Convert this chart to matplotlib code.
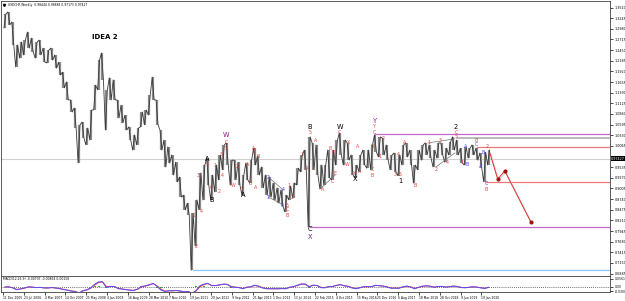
import numpy as np
import pandas as pd
import matplotlib
matplotlib.use('Agg')
from matplotlib import pyplot as plt
from matplotlib.transforms import blended_transform_factory

# USDCHF weekly, condensed to 6-week blocks starting 11 Dec 2005 (high / low of each block)
blk_hi = [1.335, 1.340, 1.315, 1.258, 1.265, 1.270, 1.290, 1.275, 1.265, 1.270,
          1.250, 1.245, 1.250, 1.233, 1.215, 1.190, 1.166, 1.121, 1.101, 1.059,
          1.066, 1.051, 1.096, 1.158, 1.220, 1.238, 1.146, 1.176, 1.171, 1.121,
          1.108, 1.083, 1.054, 1.034, 1.051, 1.091, 1.096, 1.133, 1.178, 1.121,
          1.046, 1.021, 1.004, 0.984, 0.966, 0.929, 0.884, 0.864, 0.839, 0.872,
          0.939, 0.959, 0.976, 0.934, 0.959, 0.984, 1.009, 1.014, 0.971, 0.971,
          0.966, 0.934, 0.964, 0.971, 1.001, 0.981, 0.954, 0.934, 0.929, 0.914,
          0.902, 0.897, 0.884, 0.907, 0.914, 0.951, 0.984, 0.996, 1.029, 1.014,
          1.009, 0.959, 0.959, 0.996, 0.996, 1.021, 1.039, 1.021, 1.014, 0.984,
          0.959, 0.984, 0.996, 0.996, 1.009, 1.034, 1.029, 1.026, 1.009, 0.984,
          0.989, 0.984, 1.009, 1.014, 0.996, 0.959, 0.996, 1.009, 1.014, 1.009,
          0.996, 1.014, 1.014, 1.001, 1.016, 1.029, 1.021, 1.001, 1.004, 1.001,
          1.009, 1.001, 0.989, 0.991, 0.996]
blk_lo = [1.300, 1.308, 1.258, 1.203, 1.225, 1.233, 1.250, 1.240, 1.225, 1.233,
          1.215, 1.213, 1.220, 1.200, 1.183, 1.151, 1.121, 1.091, 1.051, 0.964,
          1.026, 1.009, 1.021, 1.096, 1.146, 1.171, 1.046, 1.121, 1.121, 1.076,
          1.064, 1.046, 1.021, 0.996, 1.009, 1.054, 1.059, 1.083, 1.121, 1.059,
          0.996, 0.954, 0.964, 0.934, 0.917, 0.879, 0.847, 0.834, 0.697, 0.757,
          0.847, 0.872, 0.909, 0.872, 0.892, 0.922, 0.947, 0.959, 0.909, 0.922,
          0.909, 0.884, 0.922, 0.914, 0.959, 0.934, 0.902, 0.884, 0.879, 0.872,
          0.864, 0.857, 0.842, 0.872, 0.877, 0.909, 0.942, 0.947, 0.805, 0.947,
          0.934, 0.899, 0.909, 0.927, 0.922, 0.959, 0.984, 0.959, 0.971, 0.934,
          0.927, 0.942, 0.959, 0.951, 0.947, 0.991, 0.979, 0.984, 0.971, 0.947,
          0.942, 0.932, 0.959, 0.979, 0.959, 0.914, 0.947, 0.971, 0.984, 0.976,
          0.954, 0.976, 0.984, 0.966, 0.984, 0.996, 0.984, 0.964, 0.959, 0.976,
          0.984, 0.971, 0.951, 0.917, 0.959]

date_labels = ['11 Dec 2005', '23 Jul 2006', '4 Mar 2007', '14 Oct 2007', '25 May 2008',
               '4 Jan 2009', '16 Aug 2009', '28 Mar 2010', '7 Nov 2010', '19 Jun 2011',
               '29 Jan 2012', '9 Sep 2012', '21 Apr 2013', '1 Dec 2013', '13 Jul 2014',
               '22 Feb 2015', '4 Oct 2015', '15 May 2016', '25 Dec 2016', '6 Aug 2017',
               '18 Mar 2018', '28 Oct 2018', '9 Jun 2019', '19 Jan 2020']
price_ticks = [1.3510, 1.3245, 1.2980, 1.2715, 1.2450, 1.2185, 1.1920, 1.1655, 1.1390,
               1.1125, 1.0860, 1.0595, 1.0330, 1.0065, 0.9535, 0.9270, 0.9005,
               0.8740, 0.8475, 0.8210, 0.7945, 0.7680, 0.7415, 0.7150, 0.6885]
last_price = 0.97427

# wave labels: (week, price, text)
lab_black = [(314, 0.974, 'A'), (321, 0.872, 'B'), (369, 0.884, 'A'), (472, 1.054, 'B'),
             (472, 0.800, 'C'), (518, 1.054, 'W'), (541, 0.924, 'X'), (611, 0.919, '1'),
             (697, 1.054, '2')]
lab_purple = [(343, 1.034, 'W'), (472, 0.780, 'X'), (572, 1.068, 'Y')]
lab_red = [(294, 0.832, '1'), (297, 0.757, '2'), (301, 0.932, '3'), (305, 0.844, '4'),
           (314, 0.959, '5'), (321, 0.904, 'C'), (326, 0.957, '1'), (332, 0.894, '2'),
           (335, 0.986, '3'), (338, 0.932, '4'), (343, 1.016, 'C'), (343, 1.001, '5'),
           (360, 0.954, 'X'), (354, 0.909, 'W'), (369, 0.897, 'Y'), (377, 0.961, 'A'),
           (380, 0.914, 'B'), (385, 1.001, 'A'), (386, 0.989, 'C'), (392, 0.981, 'B'),
           (389, 0.902, 'A'), (437, 0.859, '5'), (437, 0.847, 'C'), (437, 0.834, 'B'),
           (440, 0.907, '1'), (445, 0.877, '2'), (461, 0.984, '3'), (468, 0.949, '4'),
           (472, 1.039, '5'), (481, 1.019, 'A'), (491, 0.899, 'A'), (503, 0.999, 'B'),
           (508, 0.989, 'D'), (506, 0.917, 'C'), (511, 0.939, 'E'), (518, 1.039, 'C'),
           (532, 1.014, 'X'), (529, 0.959, 'W'), (545, 1.004, 'A'), (540, 0.939, 'Y'),
           (548, 0.944, 'A'), (568, 1.006, 'B'), (568, 0.947, 'C'), (568, 0.934, 'B'),
           (572, 1.054, 'Y'), (572, 1.039, 'C'), (585, 1.026, '2'), (580, 0.979, '1'),
           (603, 0.936, '3'), (608, 0.984, '4'), (611, 0.936, '5'), (618, 1.014, 'A'),
           (634, 0.907, 'B'), (655, 1.014, '1'), (666, 0.947, '2'), (672, 1.019, '3'),
           (683, 0.966, '4'), (697, 1.041, 'C'), (697, 1.031, '5'), (706, 0.964, '1'),
           (728, 1.019, 'B'), (743, 0.899, 'B'), (745, 1.006, '2')]
lab_blue = [(408, 0.929, '2'), (408, 0.879, '1'), (429, 0.857, '3'), (431, 0.897, '4'),
            (711, 1.004, 'A'), (714, 0.959, 'B'), (728, 1.009, 'C'), (734, 0.954, 'A'),
            (738, 0.991, 'B'), (743, 0.912, 'C')]

# horizontal levels: (start week, price, colour)
levels = [(572, 1.0361, '#c468c8'), (472, 0.8046, '#c468c8'), (698, 1.0262, '#a8a8a8'),
          (729, 1.0038, '#f07878'), (743, 0.9164, '#f07878'), (292, 0.6975, '#8cc4f4')]
# projected path
proj_w = [749, 761, 772, 812]
proj_p = [0.989, 0.924, 0.944, 0.817]
# channel lines
chan = [((408, 0.929), (431, 0.897)), ((408, 0.879), (429, 0.862)),
        ((491, 0.904), (511, 0.934)), ((654, 1.014), (695, 1.024)),
        ((666, 0.954), (695, 0.989))]

hi = np.array(blk_hi)
lo = np.array(blk_lo)
wk = np.arange(len(hi)) * 6 + 3
mid = (hi + lo) / 2

# zigzag through each block's high/low
zx, zy = [], []
for i in range(len(hi)):
    nxt = mid[i + 1] if i + 1 < len(hi) else mid[i]
    first, second = (hi[i], lo[i]) if nxt < mid[i] else (lo[i], hi[i])
    zx += [wk[i] - 1.5, wk[i] + 1.5]
    zy += [first, second]

fig = plt.figure(figsize=(6.25, 3.01), dpi=100)
ax = fig.add_axes([0.0016, 0.0831, 0.9744, 0.9136])
ax2 = fig.add_axes([0.0016, 0.0299, 0.9744, 0.0532])
xmin, xmax = -3.1, 933.8

ax.axhline(last_price, color='#d0d0d0', lw=0.8, zorder=1)
for w0, p, c in levels:
    lw = 1.1 if c == '#a8a8a8' else 0.9
    ax.plot([w0, xmax], [p, p], color=c, lw=lw, zorder=1)

ax.vlines(wk, lo, hi, color='#8a8a8a', lw=1.6, zorder=2)
ax.plot(zx, zy, color='#3a3a3a', lw=0.6, zorder=3)

for (a, b) in chan:
    ax.plot([a[0], b[0]], [a[1], b[1]], color='#707070', lw=0.5, zorder=3)

ax.plot(np.array(proj_w) + 1.5, np.array(proj_p) - 0.003, color='#d8d8d8', lw=1.0, zorder=3)
ax.plot(proj_w, proj_p, color='#e03030', lw=0.7, zorder=4)
ax.plot(proj_w[1:], proj_p[1:], ls='none', marker='o', ms=2.0, color='#a01010', zorder=5)

for w, p, t in lab_black:
    ax.text(w, p, t, fontsize=4.8, color='black', ha='center', va='center', zorder=6)
for w, p, t in lab_purple:
    ax.text(w, p, t, fontsize=4.8, color='#8a1a8a', ha='center', va='center', zorder=6)
for w, p, t in lab_red:
    ax.text(w, p, t, fontsize=3.4, color='#e84040', ha='center', va='center', zorder=6)
for w, p, t in lab_blue:
    ax.text(w, p, t, fontsize=3.4, color='#4a4af0', ha='center', va='center', zorder=6)

ax.text(0.170, 0.87, 'IDEA 2', transform=ax.transAxes, fontsize=5.0, fontweight='bold',
        ha='center', va='center')
ax.text(0.012, 0.993, 'USDCHF,Weekly  0.98444 0.98888 0.97173 0.97427', transform=ax.transAxes,
        fontsize=2.2, ha='left', va='top')
ax.plot([0.005], [0.987], transform=ax.transAxes, marker='v', ms=1.5, color='black')

ax.set_xlim(xmin, xmax)
ax.set_ylim(0.6826, 1.3673)
ax.yaxis.tick_right()
ax.set_yticks(price_ticks)
ax.set_yticklabels(['%.4f' % v for v in price_ticks])
ax.tick_params(axis='y', labelsize=2.4, length=2, width=0.5, pad=1.2)
ax.set_xticks([])
for s in ax.spines.values():
    s.set_color('#404040')
    s.set_linewidth(0.6)

tr = blended_transform_factory(ax.transAxes, ax.transData)
ax.text(1.002, last_price, '%.5f' % last_price, transform=tr, fontsize=2.4, color='white',
        va='center', ha='left', bbox=dict(boxstyle='square,pad=0.15', fc='black', ec='none'))

# MACD panel
s = pd.Series(mid)
macd = s.ewm(span=2).mean() - s.ewm(span=26 / 6).mean()
signal = macd.ewm(span=1.5).mean()
hist = macd - signal
ax2.axhline(0, color='#404040', lw=0.6, ls=(0, (1, 1.5)))
ax2.vlines(wk, 0, hist, color='#1a9a1a', lw=1.2)
ax2.plot(wk, signal, color='#ff3030', lw=0.7)
ax2.plot(wk, macd, color='#5050ff', lw=0.7)
ax2.set_xlim(xmin, xmax)
ax2.set_ylim(-0.035, 0.077)
ax2.yaxis.tick_right()
ax2.set_yticks([0.0561, 0.0, -0.0300])
ax2.set_yticklabels(['0.0561', '0.00', '-0.0300'])
ax2.tick_params(axis='y', labelsize=2.2, length=2, width=0.5, pad=1.2)
ax2.set_xticks(np.arange(len(date_labels)) * 32)
ax2.set_xticklabels(date_labels, ha='left')
ax2.tick_params(axis='x', labelsize=2.2, length=2, width=0.5, pad=1.0)
ax2.text(0.004, 0.93, 'MACD(12,26,9) -0.00707 -0.00864 0.00158', transform=ax2.transAxes,
         fontsize=2.2, va='top')
for sp in ax2.spines.values():
    sp.set_color('#404040')
    sp.set_linewidth(0.6)

fig.savefig('out.png', dpi=100)
